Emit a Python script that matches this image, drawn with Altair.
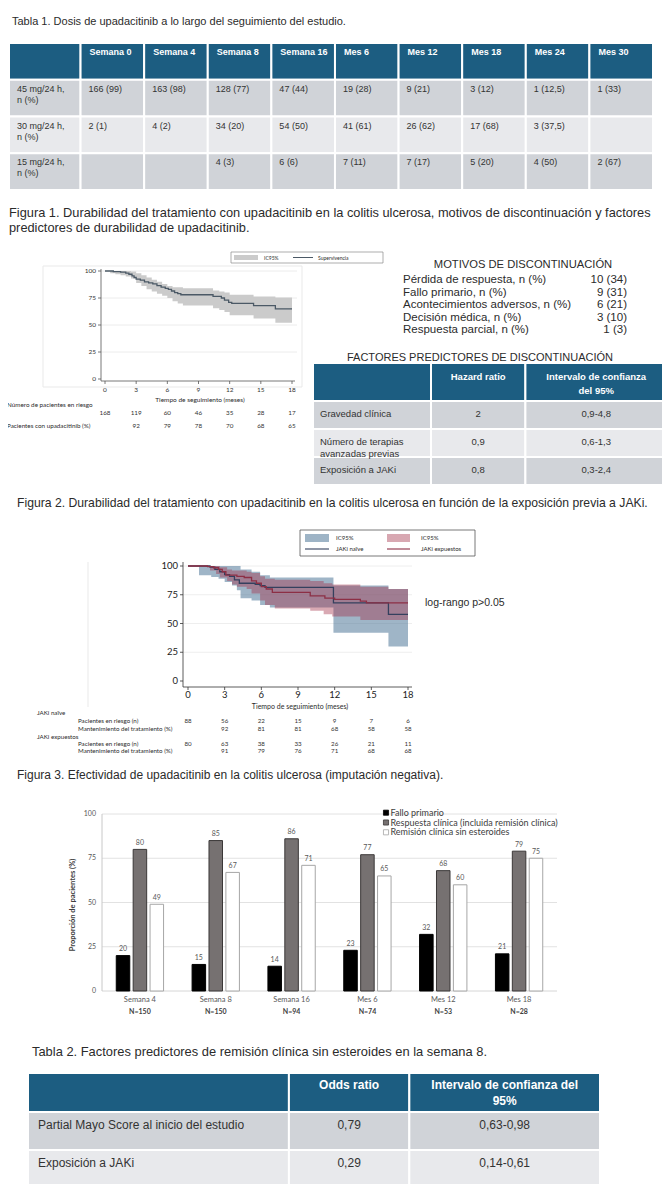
import altair as alt
import numpy as np
import pandas as pd

# ============================ DATA ============================
# Tabla 1
t1_cols = ["Semana 0", "Semana 4", "Semana 8", "Semana 16", "Mes 6", "Mes 12", "Mes 18", "Mes 24", "Mes 30"]
t1_rows = ["45 mg/24 h,\nn (%)", "30 mg/24 h,\nn (%)", "15 mg/24 h,\nn (%)"]
t1_dose45 = ["166 (99)", "163 (98)", "128 (77)", "47 (44)", "19 (28)", "9 (21)", "3 (12)", "1 (12,5)", "1 (33)"]
t1_dose30 = ["2 (1)", "4 (2)", "34 (20)", "54 (50)", "41 (61)", "26 (62)", "17 (68)", "3 (37,5)", ""]
t1_dose15 = ["", "", "4 (3)", "6 (6)", "7 (11)", "7 (17)", "5 (20)", "4 (50)", "2 (67)"]

# Figura 1 (Kaplan-Meier global)
km_ticks = [0, 3, 6, 9, 12, 15, 18]
km_yticks = [0, 25, 50, 75, 100]
km1_t = [0, 0.8, 1.5, 2.0, 2.3, 2.6, 2.8, 3.0, 3.4, 3.8, 4.2, 4.6, 5.0, 5.4, 5.8, 6.1, 6.4, 6.7, 7.0, 7.3, 10.4, 11.2, 11.5, 11.9, 12.2, 14.3, 16.4, 18]
km1_s = [100, 99.5, 99, 98, 97, 95.5, 94, 92.5, 91.5, 90, 89, 88, 86.5, 85, 84, 83, 81.5, 80, 79, 78, 76.5, 75, 73, 71, 70, 68, 65, 65]
km1_ci_t = [0, 0.5, 1.0, 1.5, 2.0, 2.5, 3.0, 3.5, 4.0, 4.5, 5.0, 5.5, 6.0, 6.5, 7.0, 7.5, 10.4, 11.0, 11.5, 12.0, 14.3, 16.4, 18]
km1_lo = [100, 98, 97, 96, 95, 93, 89, 86, 83, 81, 79, 77, 75, 72, 70, 68, 65.5, 64, 62, 59, 56, 52, 52]
km1_hi = [100, 100, 100, 100, 100, 99.5, 98, 96, 94, 92, 90, 88, 86, 85, 85, 84, 82, 81, 80, 78, 76.5, 75.5, 75.5]
km1_risk = [168, 119, 60, 46, 35, 28, 17]
km1_pct = ["", "92", "79", "78", "70", "68", "65"]

# Motivos de discontinuación
mot_labels = ["Pérdida de respuesta, n (%)", "Fallo primario, n (%)", "Acontecimientos adversos, n (%)",
              "Decisión médica, n (%)", "Respuesta parcial, n (%)"]
mot_vals = ["10 (34)", "9 (31)", "6 (21)", "3 (10)", "1 (3)"]

# Factores predictores de discontinuación
fp_factors = ["Gravedad clínica", "Número de terapias\navanzadas previas", "Exposición a JAKi"]
fp_hr = ["2", "0,9", "0,8"]
fp_ci = ["0,9-4,8", "0,6-1,3", "0,3-2,4"]

# Figura 2 (JAKi naïve vs expuestos)
nai_t = [0, 1.8, 2.2, 2.6, 3.0, 3.4, 3.8, 4.2, 5.5, 5.9, 6.3, 11.9, 16.4, 18]
nai_s = [100, 99, 97, 95, 92.5, 91, 88, 85, 84, 83, 81.5, 68, 58, 58]
nai_ci_t = [0, 0.9, 1.9, 2.5, 3.0, 3.6, 4.0, 4.3, 5.2, 5.9, 6.7, 11.9, 16.4, 18]
nai_lo = [100, 92, 90.5, 89, 86, 83, 79, 72, 70, 66, 64, 42, 30, 30]
nai_hi = [100, 100, 100, 100, 100, 100, 100, 97, 95, 92, 90, 83, 80, 80]
exp_t = [0, 1.6, 2.1, 2.5, 2.8, 3.1, 4.0, 4.6, 5.2, 5.6, 6.0, 6.4, 6.9, 10.0, 11.2, 12.0, 14.1, 14.6, 18]
exp_s = [100, 99.5, 98.5, 97, 95, 92, 91, 90, 87, 85, 82, 80, 77, 74, 72, 71, 69.5, 68, 68]
exp_ci_t = [0, 1.8, 2.3, 2.6, 3.2, 3.6, 4.0, 4.8, 5.2, 5.9, 6.3, 7.1, 10.0, 11.1, 11.8, 14.1, 16.4, 18]
exp_lo = [100, 96, 93, 90, 87, 84, 82, 80, 76, 70, 66, 63, 61, 58, 56, 53, 53, 53]
exp_hi = [100, 100, 100, 99, 97, 96, 96, 95, 94, 91, 89, 88, 87, 85, 84, 82, 80, 80]
nai_risk = [88, 56, 22, 15, 9, 7, 6]
nai_pct = ["", "92", "81", "81", "68", "58", "58"]
exp_risk = [80, 63, 38, 33, 26, 21, 11]
exp_pct = ["", "91", "79", "76", "71", "68", "68"]

# Figura 3 (efectividad)
f3_cats = ["Semana 4", "Semana 8", "Semana 16", "Mes 6", "Mes 12", "Mes 18"]
f3_n = ["N=150", "N=150", "N=94", "N=74", "N=53", "N=28"]
f3_series = ["Fallo primario", "Respuesta clínica (incluida remisión clínica)", "Remisión clínica sin esteroides"]
f3_fallo = [20, 15, 14, 23, 32, 21]
f3_resp = [80, 85, 86, 77, 68, 79]
f3_rem = [49, 67, 71, 65, 60, 75]
f3_yticks = [0, 25, 50, 75, 100]

# Tabla 2
t2_factors = ["Partial Mayo Score al inicio del estudio", "Exposición a JAKi"]
t2_or = ["0,79", "0,29"]
t2_ci = ["0,63-0,98", "0,14-0,61"]

# ============================ STYLE / LAYOUT ============================
M = 8


def P(v):
    return v - M


SANS = "Liberation Sans, Arial, sans-serif"
CAL = "Lato, Carlito, Calibri, sans-serif"
HEAD = "#1c5d81"
ROW_A = "#d0d3d8"
ROW_B = "#e8e9ec"
TXT = "#2b2b2b"
KM1_BAND = "#cbcbcb"
KM1_LINE = "#4b5966"
NAI_BAND = "#3f6b8f"
EXP_BAND = "#a22d46"
NAI_LINE = "#34405e"
EXP_LINE = "#8c2f45"

layers = []
ONE = pd.DataFrame({"k": [0]})


def note(text, x, y, size, font=SANS, color=TXT, align="left", weight="normal",
         angle=None, lh=None, baseline="middle"):
    kw = dict(align=align, baseline=baseline, font=font, fontSize=size, color=color,
              fontWeight=weight, lineBreak="\n")
    if angle is not None:
        kw["angle"] = angle
    if lh is not None:
        kw["lineHeight"] = lh
    return alt.Chart(pd.DataFrame({"t": [text]})).mark_text(**kw).encode(
        x=alt.value(P(x)), y=alt.value(P(y)), text="t:N")


def frame(x0, x1, y0, y1, fill="transparent", stroke="transparent", sw=1.0, opacity=1.0):
    return alt.Chart(ONE).mark_rect(fill=fill, stroke=stroke, strokeWidth=sw, opacity=opacity).encode(
        x=alt.value(P(x0)), x2=alt.value(P(x1)), y=alt.value(P(y0)), y2=alt.value(P(y1)))


def hline(x0, x1, y, color, sw=1.0):
    return alt.Chart(ONE).mark_rule(color=color, strokeWidth=sw).encode(
        x=alt.value(P(x0)), x2=alt.value(P(x1)), y=alt.value(P(y)))


def vline(x, y0, y1, color, sw=1.0):
    return alt.Chart(ONE).mark_rule(color=color, strokeWidth=sw).encode(
        x=alt.value(P(x)), y=alt.value(P(y0)), y2=alt.value(P(y1)))


def grid_table(units, xa, xb, rows, ya, yb, cells, kinds, fills, styles):
    edges = np.concatenate([[0.0], np.cumsum(units, dtype=float)])
    df = pd.DataFrame(cells, columns=["row", "col", "text", "kind", "style"])
    cols = df["col"].to_numpy()
    df["x0"] = edges[cols]
    df["x1"] = edges[cols + 1]
    df["xm"] = (df["x0"] + df["x1"]) / 2
    xs = alt.Scale(domain=[0, float(edges[-1])], range=[P(xa), P(xb)], nice=False, zero=False)
    ys = alt.Scale(type="band", domain=rows, range=[P(ya), P(yb)], paddingInner=0, paddingOuter=0)
    out = [alt.Chart(df).mark_rect(stroke="white", strokeWidth=2).encode(
        x=alt.X("x0:Q", scale=xs, axis=None), x2=alt.X2("x1"),
        y=alt.Y("row:N", scale=ys, axis=None),
        fill=alt.Fill("kind:N", scale=alt.Scale(domain=kinds, range=fills), legend=None))]
    for name, st in styles.items():
        sub = df[(df["style"] == name) & (df["text"] != "")]
        if sub.empty:
            continue
        xf = "x0:Q" if st["align"] == "left" else "xm:Q"
        out.append(alt.Chart(sub).mark_text(
            align=st["align"], baseline="top", dx=st.get("dx", 0), dy=st["dy"],
            font=st["font"], fontSize=st["size"], fontWeight=st.get("weight", "normal"),
            color=st["color"], lineBreak="\n", lineHeight=st["lh"]).encode(
            x=alt.X(xf, scale=xs, axis=None),
            y=alt.Y("row:N", scale=ys, axis=None, bandPosition=0),
            text="text:N"))
    return out


# ---------------- Tabla 1 ----------------
layers.append(note("Tabla 1. Dosis de upadacitinib a lo largo del seguimiento del estudio.", 12, 22, 11, SANS))
rows1 = ["hdr"] + t1_rows
cells1 = [("hdr", 0, "", "h", "none")] + [("hdr", i + 1, c, "h", "head") for i, c in enumerate(t1_cols)]
for ri, (lab, vals) in enumerate(zip(t1_rows, [t1_dose45, t1_dose30, t1_dose15])):
    kind = "a" if ri % 2 == 0 else "b"
    cells1.append((lab, 0, lab, kind, "body"))
    for ci, v in enumerate(vals):
        cells1.append((lab, ci + 1, v, kind, "body"))
layers += grid_table([9] + [8] * 9, 9, 653, rows1, 43, 190, cells1, ["h", "a", "b"], [HEAD, ROW_A, ROW_B],
                     {"head": dict(align="left", dx=9, dy=5, font=SANS, size=9, weight="bold", color="white", lh=11),
                      "body": dict(align="left", dx=8, dy=5, font=SANS, size=9, color="#333333", lh=11)})

# ---------------- Figura 1 ----------------
layers.append(note("Figura 1. Durabilidad del tratamiento con upadacitinib en la colitis ulcerosa, motivos de discontinuación y factores\npredictores de durabilidad de upadacitinib.",
                   9, 207, 12.8, SANS, baseline="top", lh=15))

x1s = alt.Scale(domain=[0, 18], range=[P(105), P(292)], nice=False, zero=False)
y1s = alt.Scale(domain=[0, 100], range=[P(379), P(271)], nice=False, zero=False)
layers.append(frame(43, 302, 266, 387, stroke="#e9e9e9", sw=1))
layers.append(alt.Chart(pd.DataFrame({"v": km_yticks[1:]})).mark_rule(color="#ececec", strokeWidth=1).encode(
    y=alt.Y("v:Q", scale=y1s, axis=None), x=alt.value(P(101)), x2=alt.value(P(297))))
layers.append(alt.Chart(pd.DataFrame({"t": km1_ci_t, "lo": km1_lo, "hi": km1_hi})).mark_area(
    interpolate="step-after", color=KM1_BAND).encode(
    x=alt.X("t:Q", scale=x1s, axis=None), y=alt.Y("lo:Q", scale=y1s, axis=None), y2=alt.Y2("hi")))
layers.append(alt.Chart(pd.DataFrame({"t": km1_t, "s": km1_s})).mark_line(
    interpolate="step-after", color=KM1_LINE, strokeWidth=1.3).encode(
    x=alt.X("t:Q", scale=x1s, axis=None), y=alt.Y("s:Q", scale=y1s, axis=None)))
layers.append(vline(101, 269, 381, "#555555", 0.8))
layers.append(hline(101, 295, 381, "#555555", 0.8))
layers.append(alt.Chart(pd.DataFrame({"t": km_ticks})).mark_rule(color="#555555", strokeWidth=0.8).encode(
    x=alt.X("t:Q", scale=x1s, axis=None), y=alt.value(P(381)), y2=alt.value(P(384))))
layers.append(alt.Chart(pd.DataFrame({"v": km_yticks})).mark_rule(color="#555555", strokeWidth=0.8).encode(
    y=alt.Y("v:Q", scale=y1s, axis=None), x=alt.value(P(98)), x2=alt.value(P(101))))
layers.append(alt.Chart(pd.DataFrame({"v": km_yticks})).mark_text(
    align="right", baseline="middle", font=CAL, fontSize=6.5, color="#333333").encode(
    y=alt.Y("v:Q", scale=y1s, axis=None), x=alt.value(P(96)), text="v:Q"))
layers.append(alt.Chart(pd.DataFrame({"t": km_ticks})).mark_text(
    align="center", baseline="middle", font=CAL, fontSize=6.5, color="#333333").encode(
    x=alt.X("t:Q", scale=x1s, axis=None), y=alt.value(P(390)), text="t:Q"))
layers.append(note("Tiempo de seguimiento (meses)", 200, 400, 6.5, CAL, align="center"))
# legend
layers.append(frame(231, 383, 252, 263, stroke="#8a8a8a", sw=0.7))
layers.append(frame(234, 258, 255, 260, fill=KM1_BAND))
layers.append(note("IC95%", 264, 257.5, 5, CAL))
layers.append(hline(293, 313, 257.5, KM1_LINE, 1))
layers.append(note("Supervivencia", 318, 257.5, 5, CAL))
# risk table
layers.append(note("Número de pacientes en riesgo", 7, 405, 6.3, CAL))
layers.append(alt.Chart(pd.DataFrame({"t": km_ticks, "n": km1_risk})).mark_text(
    align="center", baseline="middle", font=CAL, fontSize=6.3, color="#333333").encode(
    x=alt.X("t:Q", scale=x1s, axis=None), y=alt.value(P(413)), text="n:Q"))
layers.append(note("Pacientes con upadacitinib (%)", 7, 426, 6.3, CAL))
layers.append(alt.Chart(pd.DataFrame({"t": km_ticks, "p": km1_pct})).mark_text(
    align="center", baseline="middle", font=CAL, fontSize=6.3, color="#333333").encode(
    x=alt.X("t:Q", scale=x1s, axis=None), y=alt.value(P(426)), text="p:N"))

# motivos
layers.append(note("MOTIVOS DE DISCONTINUACIÓN", 523, 265, 11.2, SANS, align="center"))
mot_df = pd.DataFrame({"lab": mot_labels, "val": mot_vals})
mys = alt.Scale(type="point", domain=mot_labels, range=[P(280), P(330)], padding=0)
layers.append(alt.Chart(mot_df).mark_text(align="left", baseline="middle", font=SANS, fontSize=11.5, color=TXT).encode(
    x=alt.value(P(403)), y=alt.Y("lab:N", scale=mys, axis=None), text="lab:N"))
layers.append(alt.Chart(mot_df).mark_text(align="right", baseline="middle", font=SANS, fontSize=11.5, color=TXT).encode(
    x=alt.value(P(627)), y=alt.Y("lab:N", scale=mys, axis=None), text="val:N"))

# factores predictores de discontinuación
layers.append(note("FACTORES PREDICTORES DE DISCONTINUACIÓN", 480, 358, 11, SANS, align="center"))
fp_units = [5, 4, 6]
layers += grid_table(fp_units, 313, 667, ["hdr"], 363, 401,
                     [("hdr", 0, "", "h", "none"), ("hdr", 1, "Hazard ratio", "h", "hc"),
                      ("hdr", 2, "Intervalo de confianza\ndel 95%", "h", "hc")],
                     ["h"], [HEAD],
                     {"hc": dict(align="center", dy=8.5, font=SANS, size=9.5, weight="bold", color="white", lh=14)})
fp_cells = []
for ri, (f, hr, ci) in enumerate(zip(fp_factors, fp_hr, fp_ci)):
    kind = "a" if ri % 2 == 0 else "b"
    fp_cells += [(f, 0, f, kind, "lab"), (f, 1, hr, kind, "num"), (f, 2, ci, kind, "num")]
layers += grid_table(fp_units, 313, 667, fp_factors, 401, 485, fp_cells, ["a", "b"], [ROW_A, ROW_B],
                     {"lab": dict(align="left", dx=7, dy=8, font=SANS, size=9.5, color="#333333", lh=12),
                      "num": dict(align="center", dy=8, font=SANS, size=9.5, color="#333333", lh=12)})

# ---------------- Figura 2 ----------------
layers.append(note("Figura 2. Durabilidad del tratamiento con upadacitinib en la colitis ulcerosa en función de la exposición previa a JAKi.",
                   17, 503, 12.2, SANS))
x2s = alt.Scale(domain=[0, 18], range=[P(188), P(408)], nice=False, zero=False)
y2s = alt.Scale(domain=[0, 100], range=[P(681), P(566)], nice=False, zero=False)
layers.append(vline(88, 562, 707, "#e9e9e9", 1))
layers.append(alt.Chart(pd.DataFrame({"v": km_yticks[1:]})).mark_rule(color="#eeeeee", strokeWidth=1).encode(
    y=alt.Y("v:Q", scale=y2s, axis=None), x=alt.value(P(183)), x2=alt.value(P(412))))
layers.append(alt.Chart(pd.DataFrame({"t": nai_ci_t, "lo": nai_lo, "hi": nai_hi})).mark_area(
    interpolate="step-after", color=NAI_BAND, opacity=0.5).encode(
    x=alt.X("t:Q", scale=x2s, axis=None), y=alt.Y("lo:Q", scale=y2s, axis=None), y2=alt.Y2("hi")))
layers.append(alt.Chart(pd.DataFrame({"t": exp_ci_t, "lo": exp_lo, "hi": exp_hi})).mark_area(
    interpolate="step-after", color=EXP_BAND, opacity=0.41).encode(
    x=alt.X("t:Q", scale=x2s, axis=None), y=alt.Y("lo:Q", scale=y2s, axis=None), y2=alt.Y2("hi")))
layers.append(alt.Chart(pd.DataFrame({"t": nai_t, "s": nai_s})).mark_line(
    interpolate="step-after", color=NAI_LINE, strokeWidth=1.3).encode(
    x=alt.X("t:Q", scale=x2s, axis=None), y=alt.Y("s:Q", scale=y2s, axis=None)))
layers.append(alt.Chart(pd.DataFrame({"t": exp_t, "s": exp_s})).mark_line(
    interpolate="step-after", color=EXP_LINE, strokeWidth=1.3).encode(
    x=alt.X("t:Q", scale=x2s, axis=None), y=alt.Y("s:Q", scale=y2s, axis=None)))
layers.append(vline(183, 562, 687, "#333333", 0.8))
layers.append(hline(183, 412, 687, "#333333", 0.8))
layers.append(alt.Chart(pd.DataFrame({"t": km_ticks})).mark_rule(color="#333333", strokeWidth=0.8).encode(
    x=alt.X("t:Q", scale=x2s, axis=None), y=alt.value(P(687)), y2=alt.value(P(690))))
layers.append(alt.Chart(pd.DataFrame({"v": km_yticks})).mark_rule(color="#333333", strokeWidth=0.8).encode(
    y=alt.Y("v:Q", scale=y2s, axis=None), x=alt.value(P(180)), x2=alt.value(P(183))))
layers.append(alt.Chart(pd.DataFrame({"v": km_yticks})).mark_text(
    align="right", baseline="middle", font=CAL, fontSize=9.5, color="#222222").encode(
    y=alt.Y("v:Q", scale=y2s, axis=None), x=alt.value(P(178)), text="v:Q"))
layers.append(alt.Chart(pd.DataFrame({"t": km_ticks})).mark_text(
    align="center", baseline="middle", font=CAL, fontSize=9.5, color="#222222").encode(
    x=alt.X("t:Q", scale=x2s, axis=None), y=alt.value(P(695)), text="t:Q"))
layers.append(note("Tiempo de seguimiento (meses)", 300, 707, 7, CAL, align="center"))
layers.append(note("log-rango p>0.05", 425, 603, 10.5, SANS))
# legend
layers.append(frame(300, 475, 530, 556, stroke="#555555", sw=0.8))
layers.append(frame(305, 329, 534, 542, fill=NAI_BAND, opacity=0.5))
layers.append(frame(387, 410, 534, 542, fill=EXP_BAND, opacity=0.41))
layers.append(note("IC95%", 336, 538, 6, CAL))
layers.append(note("IC95%", 421, 538, 6, CAL))
layers.append(hline(305, 329, 549, NAI_LINE, 1.1))
layers.append(hline(387, 410, 549, EXP_LINE, 1.1))
layers.append(note("JAKi naïve", 336, 549, 6, CAL))
layers.append(note("JAKi expuestos", 421, 549, 6, CAL))
# risk table
risk_rows = [("JAKi naïve", 37, 712.5, None), ("Pacientes en riesgo (n)", 78, 721, nai_risk),
             ("Mantenimiento del tratamiento (%)", 78, 728.5, nai_pct), ("JAKi expuestos", 37, 736.5, None),
             ("Pacientes en riesgo (n)", 78, 743.5, exp_risk), ("Mantenimiento del tratamiento (%)", 78, 751, exp_pct)]
for lab, lx, ly, vals in risk_rows:
    layers.append(note(lab, lx, ly, 6.2, CAL))
    if vals is not None:
        layers.append(alt.Chart(pd.DataFrame({"t": km_ticks, "v": [str(v) for v in vals]})).mark_text(
            align="center", baseline="middle", font=CAL, fontSize=6.2, color="#333333").encode(
            x=alt.X("t:Q", scale=x2s, axis=None), y=alt.value(P(ly)), text="v:N"))

# ---------------- Figura 3 ----------------
layers.append(note("Figura 3. Efectividad de upadacitinib en la colitis ulcerosa (imputación negativa).", 17, 775, 12, SANS))
bars = pd.DataFrame({
    "cat": f3_cats * 3,
    "series": [f3_series[0]] * 6 + [f3_series[1]] * 6 + [f3_series[2]] * 6,
    "value": f3_fallo + f3_resp + f3_rem})
bxs = alt.Scale(type="band", domain=f3_cats, range=[P(102), P(557)], paddingInner=0.376, paddingOuter=0.188)
bxo = alt.Scale(type="band", domain=f3_series, paddingInner=0.2, paddingOuter=0)
bys = alt.Scale(domain=[0, 100], range=[P(991), P(814)], nice=False, zero=True)
FILLS = ["#000000", "#767171", "#ffffff"]
STROKES = ["#000000", "#3b3838", "#a6a6a6"]
layers.append(alt.Chart(pd.DataFrame({"v": f3_yticks[1:]})).mark_rule(color="#e2e2e2", strokeWidth=1).encode(
    y=alt.Y("v:Q", scale=bys, axis=None), x=alt.value(P(102)), x2=alt.value(P(557))))
layers.append(hline(102, 557, 991, "#d6d6d6", 1))
layers.append(vline(102, 814, 991, "#c8c8c8", 1))
layers.append(alt.Chart(bars).mark_bar(strokeWidth=1).encode(
    x=alt.X("cat:N", scale=bxs, axis=None),
    xOffset=alt.XOffset("series:N", scale=bxo),
    y=alt.Y("value:Q", scale=bys, axis=None),
    fill=alt.Fill("series:N", scale=alt.Scale(domain=f3_series, range=FILLS), legend=None),
    stroke=alt.Stroke("series:N", scale=alt.Scale(domain=f3_series, range=STROKES), legend=None)))
layers.append(alt.Chart(bars).mark_text(baseline="middle", dy=-6.5, font=CAL, fontSize=7, color="#595959").encode(
    x=alt.X("cat:N", scale=bxs, axis=None),
    xOffset=alt.XOffset("series:N", scale=bxo),
    y=alt.Y("value:Q", scale=bys, axis=None),
    text="value:Q"))
layers.append(alt.Chart(pd.DataFrame({"v": f3_yticks})).mark_text(
    align="right", baseline="middle", font=CAL, fontSize=7, color="#595959").encode(
    y=alt.Y("v:Q", scale=bys, axis=None), x=alt.value(P(96)), text="v:Q"))
cat_df = pd.DataFrame({"cat": f3_cats, "n": f3_n})
layers.append(alt.Chart(cat_df).mark_text(baseline="middle", font=CAL, fontSize=7.5, color="#595959").encode(
    x=alt.X("cat:N", scale=bxs, axis=None), y=alt.value(P(1000)), text="cat:N"))
layers.append(alt.Chart(cat_df).mark_text(baseline="middle", font=CAL, fontSize=7, fontWeight="bold", color="#404040").encode(
    x=alt.X("cat:N", scale=bxs, axis=None), y=alt.value(P(1012)), text="n:N"))
layers.append(note("Proporción de pacientes (%)", 73, 905, 7.5, CAL, align="center", weight="bold",
                   angle=270, color="#404040"))
leg_df = pd.DataFrame({"series": f3_series})
lys = alt.Scale(type="point", domain=f3_series, range=[P(812.7), P(832.3)], padding=0)
layers.append(alt.Chart(leg_df).mark_square(size=26, strokeWidth=0.8, opacity=1).encode(
    x=alt.value(P(386)), y=alt.Y("series:N", scale=lys, axis=None),
    fill=alt.Fill("series:N", scale=alt.Scale(domain=f3_series, range=FILLS), legend=None),
    stroke=alt.Stroke("series:N", scale=alt.Scale(domain=f3_series, range=STROKES), legend=None)))
layers.append(alt.Chart(leg_df).mark_text(align="left", baseline="middle", font=CAL, fontSize=9, color="#404040").encode(
    x=alt.value(P(390.5)), y=alt.Y("series:N", scale=lys, axis=None), text="series:N"))

# ---------------- Tabla 2 ----------------
layers.append(note("Tabla 2. Factores predictores de remisión clínica sin esteroides en la semana 8.", 32, 1052, 12.9, SANS))
t2_units = [26, 12, 19]
layers += grid_table(t2_units, 28, 600, ["hdr"], 1073, 1112,
                     [("hdr", 0, "", "h", "none"), ("hdr", 1, "Odds ratio", "h", "hc"),
                      ("hdr", 2, "Intervalo de confianza del\n95%", "h", "hc")],
                     ["h"], [HEAD],
                     {"hc": dict(align="center", dy=7, font=SANS, size=12, weight="bold", color="white", lh=15.7)})
t2_cells = []
for ri, (f, o, ci) in enumerate(zip(t2_factors, t2_or, t2_ci)):
    kind = "a" if ri % 2 == 0 else "b"
    t2_cells += [(f, 0, f, kind, "lab"), (f, 1, o, kind, "num"), (f, 2, ci, kind, "num")]
layers += grid_table(t2_units, 28, 600, t2_factors, 1112, 1188, t2_cells, ["a", "b"], [ROW_A, ROW_B],
                     {"lab": dict(align="left", dx=10, dy=8, font=SANS, size=12, color="#333333", lh=13),
                      "num": dict(align="center", dy=8, font=SANS, size=12, color="#333333", lh=13)})

# ============================ CHART ============================
chart = alt.layer(*layers).resolve_scale(
    x="independent", y="independent", fill="independent", stroke="independent",
    color="independent", xOffset="independent"
).properties(
    width=654, height=1176, padding=0, background="white",
    autosize=alt.AutoSizeParams(type="none")
).configure_view(stroke="transparent")

chart.save("out.html", embed_options={"renderer": "svg", "actions": False})
